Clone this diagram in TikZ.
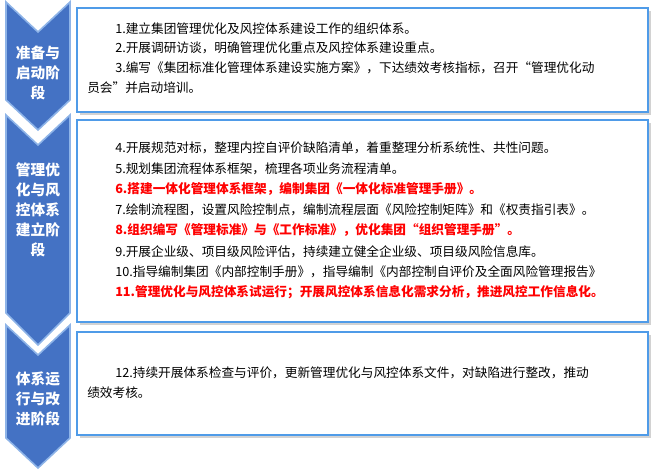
\documentclass[tikz,border=0pt]{standalone}
\usepackage{fontspec}
\setmainfont{Noto Sans CJK SC}
\begin{document}
\begin{tikzpicture}[x=0.75pt,y=-0.75pt,
  chev/.style={fill=chevblue,draw=chevedge,line width=1.2pt},
  panel/.style={draw=panelblue,line width=0.8pt,fill=white},
  ln/.style={anchor=base west,inner sep=0,font=\fontsize{9.5pt}{10pt}\selectfont},
  rd/.style={ln,text=red,font=\fontsize{9.5pt}{10pt}\selectfont\bfseries},
  lab/.style={text=white,align=center,font=\fontsize{11pt}{15pt}\selectfont\bfseries,inner sep=0}]
\definecolor{chevblue}{HTML}{4472C4}
\definecolor{chevedge}{HTML}{8EB4E8}
\definecolor{panelblue}{HTML}{4F9BE8}
\useasboundingbox (0,0) rectangle (651,470);
% chevrons
\draw[chev] (6,2) -- (38,32) -- (70,2) -- (70,100) -- (38,130) -- (6,100) -- cycle;
\draw[chev] (6,115) -- (38,145) -- (70,115) -- (70,313) -- (38,345) -- (6,313) -- cycle;
\draw[chev] (6,325) -- (38,355) -- (70,325) -- (70,438) -- (38,468) -- (6,438) -- cycle;
\node[lab] (l1) at (38,73) {准备与\\启动阶\\段};
\node[lab] (l2) at (38,210) {管理优\\化与风\\控体系\\建立阶\\段};
\node[lab] (l3) at (38,399) {体系运\\行与改\\进阶段};
% panels
\foreach \a/\b in {8/112,120/322,332/435}{
  \fill[gray!35] (80,\a+3) rectangle (651,\b+3);
  \draw[panel] (77,\a) rectangle (648,\b);
}
\node[ln] (t1) at (115,34) {1.建立集团管理优化及风控体系建设工作的组织体系。};
\node[ln] (t2) at (115,53) {2.开展调研访谈，明确管理优化重点及风控体系建设重点。};
\node[ln] (t3) at (115,73) {3.编写《集团标准化管理体系建设实施方案》，下达绩效考核指标，召开“管理优化动};
\node[ln] (t3b) at (87,93) {员会”并启动培训。};
\node[ln] (t4) at (115,153) {4.开展规范对标，整理内控自评价缺陷清单，着重整理分析系统性、共性问题。};
\node[ln] (t5) at (115,174) {5.规划集团流程体系框架，梳理各项业务流程清单。};
\node[rd] (t6) at (115,194) {6.搭建一体化管理体系框架，编制集团《一体化标准管理手册》。};
\node[ln] (t7) at (115,215) {7.绘制流程图，设置风险控制点，编制流程层面《风险控制矩阵》和《权责指引表》。};
\node[rd] (t8) at (115,235) {8.组织编写《管理标准》与《工作标准》，优化集团“组织管理手册”。};
\node[ln] (t9) at (115,257) {9.开展企业级、项目级风险评估，持续建立健全企业级、项目级风险信息库。};
\node[ln] (t10) at (115,277) {10.指导编制集团《内部控制手册》，指导编制《内部控制自评价及全面风险管理报告》};
\node[rd] (t11) at (115,297) {11.管理优化与风控体系试运行；开展风控体系信息化需求分析，推进风控工作信息化。};
\node[ln] (t12) at (115,378) {12.持续开展体系检查与评价，更新管理优化与风控体系文件，对缺陷进行整改，推动};
\node[ln] (t12b) at (87,398) {绩效考核。};
\end{tikzpicture}
\end{document}
